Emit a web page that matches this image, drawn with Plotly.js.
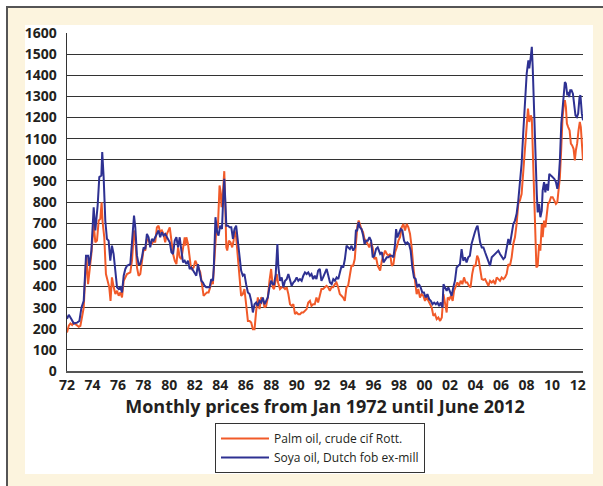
<!DOCTYPE html>
<html>
<head>
<meta charset="utf-8">
<script src="https://cdn.plot.ly/plotly-3.0.1.min.js"></script>
<style>
  html, body { margin: 0; padding: 0; background: #ffffff; }
  #chart { width: 603px; height: 486px; }
</style>
</head>
<body>
<div id="chart"></div>
<script>
// Palm oil, crude cif Rotterdam (US$/t), month positions as decimal years
const palmYears = [
1972.00,1972.14,1972.27,1972.40,1972.53,1972.66,1972.79,1972.92,1973.05,1973.18,1973.31,1973.44,1973.52,1973.65,1973.75,1973.91,
1974.09,1974.22,1974.35,1974.48,1974.61,1974.71,1974.79,1974.92,1975.05,1975.18,1975.31,1975.41,1975.52,1975.66,1975.79,1975.92,
1976.05,1976.18,1976.31,1976.44,1976.57,1976.70,1976.96,1977.09,1977.25,1977.35,1977.48,1977.61,1977.74,1977.87,1978.00,1978.13,
1978.26,1978.39,1978.52,1978.65,1978.78,1978.91,1979.04,1979.17,1979.30,1979.43,1979.56,1979.69,1979.83,
1980.05,1980.18,1980.31,1980.44,1980.57,1980.70,1980.83,1980.96,1981.09,1981.22,1981.27,1981.35,1981.48,1981.56,1981.69,1981.79,
1981.92,1982.05,1982.18,1982.31,1982.44,1982.57,1982.70,1982.83,1982.96,1983.09,1983.22,1983.35,1983.43,1983.56,1983.69,1983.82,
1983.95,1984.02,1984.11,1984.24,1984.32,1984.40,1984.48,1984.55,1984.68,1984.81,1984.94,1985.05,1985.12,1985.25,1985.38,1985.51,
1985.64,1985.77,1985.90,1986.03,1986.17,1986.30,1986.43,1986.56,1986.69,1986.82,1986.95,1987.08,1987.21,1987.34,1987.47,1987.60,
1987.73,1987.86,1987.99,1988.12,1988.22,1988.43,1988.53,1988.69,1988.82,1988.95,1989.08,1989.21,1989.34,1989.47,1989.60,1989.73,
1989.86,1989.99,1990.12,1990.25,1990.38,1990.51,1990.64,1990.77,1990.90,1991.03,1991.15,1991.28,1991.41,1991.54,1991.67,1991.80,
1991.93,1992.06,1992.20,1992.33,1992.46,1992.59,1992.72,1992.85,1992.98,1993.11,1993.24,1993.37,1993.50,1993.63,1993.76,1993.89,
1994.02,1994.15,1994.28,1994.41,1994.54,1994.65,1994.75,1994.85,1994.93,1995.06,1995.19,1995.30,1995.42,1995.55,1995.68,1995.81,
1995.94,1996.07,1996.21,1996.34,1996.53,1996.66,1996.79,1996.92,1997.05,1997.18,1997.31,1997.44,1997.57,1997.70,1997.83,1997.96,
1998.09,1998.22,1998.35,1998.48,1998.61,1998.74,1998.87,1999.00,1999.13,1999.26,1999.39,1999.52,1999.65,1999.78,1999.91,2000.04,
2000.18,2000.31,2000.44,2000.57,2000.70,2000.83,2000.96,2001.09,2001.23,2001.36,2001.49,2001.61,2001.74,2001.82,2001.95,2002.08,
2002.21,2002.32,2002.45,2002.58,2002.71,2002.84,2002.97,2003.10,2003.23,2003.35,2003.49,2003.61,2003.74,2003.87,2004.00,2004.13,
2004.24,2004.49,2004.62,2004.75,2004.88,2005.01,2005.14,2005.27,2005.40,2005.53,2005.66,2005.79,2005.92,2006.05,2006.18,2006.31,
2006.44,2006.57,2006.70,2006.83,2006.96,2007.09,2007.22,2007.35,2007.48,2007.61,2007.75,2007.88,2008.01,2008.11,2008.21,2008.33,
2008.41,2008.48,2008.59,2008.69,2008.77,2008.87,2008.98,2009.08,2009.19,2009.26,2009.37,2009.47,2009.57,2009.68,2009.78,2009.91,
2010.04,2010.17,2010.30,2010.41,2010.51,2010.61,2010.72,2010.82,2010.93,2011.00,2011.08,2011.16,2011.26,2011.37,2011.47,2011.57,
2011.68,2011.78,2011.86,2011.96,2012.07,2012.17,2012.25,2012.35,2012.42];
const palmPrices = [
182,214,225,218,229,221,218,209,214,269,300,459,546,411,459,554,
696,609,617,712,720,799,704,633,459,427,396,332,443,396,364,380,
356,372,348,427,443,459,467,522,665,633,490,451,459,522,577,570,
625,617,601,601,617,609,680,688,657,665,649,609,649,
680,617,554,522,506,585,538,530,585,633,593,633,601,554,498,483,
490,522,506,483,467,411,356,364,372,372,396,435,411,538,665,680,
878,854,775,870,946,775,585,570,617,609,585,617,665,633,546,427,
356,364,388,316,237,237,229,198,198,285,348,293,348,340,300,308,
348,427,483,396,388,459,419,388,396,396,388,396,364,316,308,316,
269,277,269,269,277,277,285,293,324,332,308,316,316,348,324,364,
388,388,396,403,396,380,396,396,411,419,396,364,356,348,332,396,
403,459,498,498,530,617,688,712,696,672,657,625,617,601,585,609,
585,530,538,498,475,522,546,570,554,546,554,498,506,562,585,617,
633,680,696,665,696,680,649,585,490,427,364,388,348,364,356,332,
348,332,316,300,261,269,245,253,237,253,364,324,277,348,340,356,
332,380,403,419,403,427,411,443,419,419,403,396,459,498,498,546,
530,435,431,435,419,403,427,419,427,411,443,435,427,443,435,443,
459,506,498,538,601,633,696,791,807,838,965,1060,1171,1242,1179,1210,
1194,1060,823,665,490,498,601,570,696,633,712,680,744,791,799,823,
823,807,791,799,854,918,1060,1202,1266,1282,1250,1171,1155,1139,1076,1068,
1052,997,1044,1076,1139,1179,1155,1076,997];

// Soya oil, Dutch fob ex-mill (US$/t)
const soyaYears = [
1972.00,1972.14,1972.35,1972.53,1972.79,1972.97,1973.13,1973.31,1973.49,1973.65,1973.75,1973.91,1974.09,1974.22,1974.40,1974.53,
1974.69,1974.76,1974.87,1975.00,1975.13,1975.26,1975.39,1975.52,1975.65,1975.79,1975.92,1976.05,1976.18,1976.31,1976.44,1976.57,
1976.70,1976.96,1977.15,1977.25,1977.35,1977.48,1977.61,1977.74,1977.87,1978.00,1978.13,1978.26,1978.39,1978.52,1978.65,1978.78,
1978.91,1979.04,1979.17,1979.30,1979.43,1979.56,1979.69,1979.83,
1980.05,1980.18,1980.31,1980.44,1980.57,1980.70,1980.83,1980.96,1981.09,1981.22,1981.35,1981.48,1981.61,1981.74,1981.87,1982.00,
1982.13,1982.26,1982.39,1982.52,1982.65,1982.78,1982.91,1983.04,1983.17,1983.30,1983.43,1983.50,1983.63,1983.76,1983.87,1984.00,
1984.14,1984.24,1984.32,1984.40,1984.48,1984.61,1984.74,1984.87,1985.00,1985.12,1985.25,1985.38,1985.51,1985.64,1985.77,1985.90,
1986.03,1986.17,1986.30,1986.43,1986.56,1986.69,1986.82,1986.95,1987.08,1987.21,1987.34,1987.47,1987.60,1987.73,1987.86,1987.99,
1988.12,1988.22,1988.35,1988.48,1988.56,1988.69,1988.82,1988.95,1989.08,1989.21,1989.34,1989.47,1989.60,1989.73,1989.86,1989.99,
1990.12,1990.25,1990.38,1990.51,1990.64,1990.77,1990.90,1991.03,1991.15,1991.28,1991.41,1991.54,1991.67,1991.80,1991.93,1992.06,
1992.21,1992.34,1992.47,1992.60,1992.73,1992.86,1992.99,1993.12,1993.25,1993.38,1993.51,1993.64,1993.77,1993.90,1994.03,1994.16,
1994.29,1994.42,1994.55,1994.63,1994.73,1994.84,1994.94,1995.07,1995.20,1995.31,1995.43,1995.56,1995.69,1995.82,1995.95,1996.08,
1996.21,1996.34,1996.53,1996.66,1996.79,1996.92,1997.05,1997.18,1997.31,1997.44,1997.57,1997.70,1997.78,1997.88,1998.01,1998.14,
1998.27,1998.40,1998.53,1998.66,1998.79,1998.92,1999.05,1999.18,1999.31,1999.44,1999.57,1999.70,1999.83,1999.96,2000.09,2000.23,
2000.37,2000.50,2000.63,2000.76,2000.89,2001.02,2001.15,2001.28,2001.41,2001.49,2001.61,2001.74,2001.87,2002.00,2002.13,2002.26,
2002.39,2002.52,2002.65,2002.78,2002.91,2003.04,2003.17,2003.30,2003.43,2003.56,2003.69,2003.82,2003.95,2004.08,2004.16,2004.26,
2004.36,2004.49,2004.62,2004.75,2004.88,2005.01,2005.14,2005.27,2005.40,2005.53,2005.66,2005.79,2005.92,2006.05,2006.18,2006.31,
2006.44,2006.57,2006.70,2006.83,2006.96,2007.09,2007.22,2007.35,2007.48,2007.61,2007.75,2007.88,2008.01,2008.14,2008.21,2008.33,
2008.41,2008.48,2008.59,2008.69,2008.80,2008.87,2008.98,2009.08,2009.19,2009.26,2009.37,2009.47,2009.57,2009.68,2009.78,2009.91,
2010.04,2010.17,2010.30,2010.41,2010.51,2010.61,2010.72,2010.82,2010.93,2011.00,2011.08,2011.19,2011.26,2011.34,2011.42,2011.52,
2011.63,2011.73,2011.83,2011.94,2012.04,2012.15,2012.22,2012.33,2012.42];
const soyaPrices = [
247,266,245,225,229,237,300,332,546,546,498,570,775,665,783,918,
925,1036,918,712,625,617,522,593,554,459,396,388,396,372,451,483,
498,506,633,736,680,546,506,506,538,585,577,649,633,585,625,617,
633,649,665,633,657,641,649,633,
609,562,554,617,633,585,633,570,514,522,506,522,483,490,475,459,
451,506,467,427,419,403,396,396,396,435,427,490,728,657,641,688,
672,823,910,807,688,688,680,680,625,672,688,617,538,475,451,459,
411,372,364,332,277,316,324,308,332,324,348,316,332,348,396,427,
411,411,459,601,490,427,443,396,427,435,459,427,403,419,427,443,
427,435,427,451,467,459,467,451,459,435,451,435,475,483,427,443,
467,483,451,419,411,435,427,443,435,467,498,490,530,593,585,577,
593,570,585,665,665,704,680,672,641,601,617,617,633,617,538,546,
577,585,554,562,514,530,538,538,546,546,538,601,672,633,657,672,
665,617,601,609,601,570,490,443,435,396,411,396,372,372,348,364,
340,332,316,324,316,324,308,324,300,411,396,380,396,380,356,396,
427,490,498,506,577,522,538,514,538,546,601,633,657,680,688,649,
609,585,585,562,538,522,498,538,546,554,562,570,554,538,530,538,
585,625,601,649,696,712,744,807,886,981,1139,1297,1408,1471,1432,1487,
1535,1440,1218,981,838,751,791,728,759,854,894,846,886,854,933,925,
918,910,894,862,902,997,1171,1250,1297,1368,1360,1305,1321,1297,1329,1329,
1313,1266,1210,1202,1218,1297,1305,1218,1187];

const tickYears = [1972,1974,1976,1978,1980,1982,1984,1986,1988,1990,1992,1994,1996,1998,2000,2002,2004,2006,2008,2010,2012];
const tickLabels = ['72','74','76','78','80','82','84','86','88','90','92','94','96','98','00','02','04','06','08','10','12'];
const seriesNames = ['Palm oil, crude cif Rott.', 'Soya oil, Dutch fob ex-mill'];
const xTitle = 'Monthly prices from Jan 1972 until June 2012';

const traces = [
  { x: palmYears, y: palmPrices, type: 'scatter', mode: 'lines', name: seriesNames[0],
    line: { color: '#F15A29', width: 2 } },
  { x: soyaYears, y: soyaPrices, type: 'scatter', mode: 'lines', name: seriesNames[1],
    line: { color: '#2E3192', width: 2 } }
];

// paper-coordinate helpers for decorative frame (plot area is 67..583 x 33..371 px)
const W = 516, H = 338;
const px = v => (v - 67) / W;
const py = v => (371 - v) / H;

const layout = {
  width: 603, height: 486,
  margin: { l: 67, r: 20, t: 33, b: 115, pad: 0 },
  paper_bgcolor: '#ffffff',
  plot_bgcolor: 'rgba(0,0,0,0)',
  font: { family: '"Open Sans", "Liberation Sans", sans-serif', color: '#231F20' },
  showlegend: true,
  legend: {
    x: px(215), y: py(423), xanchor: 'left', yanchor: 'top',
    bgcolor: '#ffffff', bordercolor: '#333333', borderwidth: 1,
    font: { family: '"Open Sans", sans-serif', size: 12, color: '#231F20' },
    itemwidth: 48, tracegroupgap: 0
  },
  xaxis: {
    range: [1972, 2012.42],
    tickmode: 'array', tickvals: tickYears, ticktext: tickLabels,
    showgrid: false, zeroline: false,
    showline: true, linecolor: '#555555', linewidth: 2,
    ticks: '', tickfont: { size: 14, family: '"Open Sans", sans-serif', weight: 'bold', color: '#231F20' },
    title: { text: xTitle, standoff: 5,
      font: { size: 18, family: '"Open Sans", sans-serif', weight: 'bold', color: '#231F20' } },
    fixedrange: true
  },
  yaxis: {
    range: [0, 1600], dtick: 100, tick0: 0,
    showgrid: true, gridcolor: '#333333', gridwidth: 1,
    zeroline: false, showline: true, linecolor: '#333333', linewidth: 1.5,
    ticks: '', ticklabelstandoff: 6,
    tickfont: { size: 14, family: '"Open Sans", sans-serif', weight: 'bold', color: '#231F20' },
    fixedrange: true
  },
  shapes: [
    { type: 'rect', xref: 'paper', yref: 'paper', layer: 'below',
      x0: px(8), x1: px(604), y0: py(487), y1: py(8),
      fillcolor: '#FCF4DE', line: { width: 0 } },
    { type: 'rect', xref: 'paper', yref: 'paper', layer: 'below',
      x0: px(25), x1: px(593), y0: py(474), y1: py(25),
      fillcolor: '#ffffff', line: { width: 0 } },
    { type: 'line', xref: 'paper', yref: 'paper', layer: 'below',
      x0: px(7), x1: px(7), y0: py(487), y1: py(6),
      line: { color: '#555555', width: 2 } },
    { type: 'line', xref: 'paper', yref: 'paper', layer: 'below',
      x0: px(6), x1: px(604), y0: py(7), y1: py(7),
      line: { color: '#555555', width: 2 } }
  ]
};

Plotly.newPlot('chart', traces, layout, { displayModeBar: false, staticPlot: true });
</script>
</body>
</html>
